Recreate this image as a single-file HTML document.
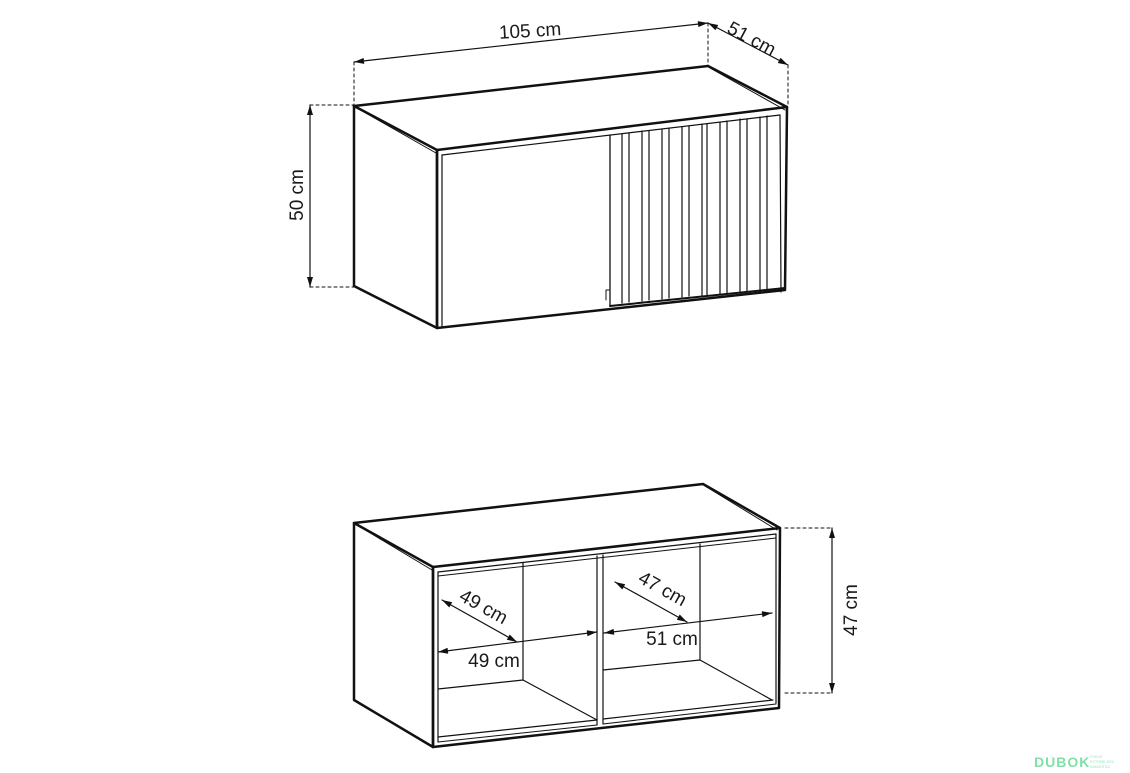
<!DOCTYPE html>
<html><head><meta charset="utf-8"><style>
html,body{margin:0;padding:0;background:#fff;}
svg{display:block;}
text{font-family:"Liberation Sans",Arial,sans-serif;fill:#1a1a1a;}
</style></head><body>
<svg width="1130" height="773" viewBox="0 0 1130 773" xmlns="http://www.w3.org/2000/svg">
<defs>
<marker id="a" viewBox="0 0 10 6" refX="10" refY="3" markerWidth="11" markerHeight="6" orient="auto" markerUnits="userSpaceOnUse">
<path d="M0,0 L10,3 L0,6 z" fill="#111"/></marker>
<marker id="as" viewBox="0 0 10 6" refX="0" refY="3" markerWidth="11" markerHeight="6" orient="auto" markerUnits="userSpaceOnUse">
<path d="M10,0 L0,3 L10,6 z" fill="#111"/></marker>
</defs>
<g fill="none" stroke="#111" stroke-linejoin="round" stroke-linecap="round">
<!-- TOP CABINET -->
<path d="M354,106 L708,66 L787,107 L437,150 Z" stroke-width="2.5" fill="#fff"/>
<path d="M354,106 L354,286 L437,328 L437,150" stroke-width="2.5"/>
<path d="M357,108 L436,153" stroke-width="1"/>
<path d="M710,68 L785,110" stroke-width="1"/>
<path d="M437,150 L437,328 L785,290 L787,107" stroke-width="2.5"/>
<path d="M442,155 L780,115" stroke-width="1.2"/>
<path d="M442,155 L442,326" stroke-width="1.2"/>
<path d="M780,115 L781,292" stroke-width="1.2"/>
<!-- door -->
<path d="M610,135 L610,306" stroke-width="1.3"/>
<path d="M606,290 L609,290 M606,290 L606,300" stroke-width="1"/>
<!-- slats -->
<g stroke-width="1.2">
<line x1="622" y1="134" x2="622" y2="303"/><line x1="629" y1="133" x2="629" y2="302"/>
<line x1="642" y1="131" x2="642" y2="301"/><line x1="649" y1="131" x2="649" y2="300"/>
<line x1="662" y1="129" x2="662" y2="299"/><line x1="669" y1="128" x2="669" y2="298"/>
<line x1="682" y1="127" x2="682" y2="297"/><line x1="689" y1="126" x2="689" y2="296"/>
<line x1="702" y1="124" x2="702" y2="296"/><line x1="707" y1="124" x2="707" y2="295"/>
<line x1="720" y1="122" x2="720" y2="294"/><line x1="727" y1="121" x2="727" y2="294"/>
<line x1="740" y1="119" x2="740" y2="293"/><line x1="747" y1="119" x2="747" y2="292"/>
<line x1="760" y1="117" x2="760" y2="292"/><line x1="767" y1="116" x2="767" y2="291"/>
</g>
<path d="M610,306 L785,288" stroke-width="2"/>
<!-- dims -->
<g stroke-width="1" stroke-dasharray="3,3">
<line x1="354" y1="62" x2="354" y2="106"/><line x1="708" y1="23" x2="708" y2="66"/>
<line x1="788" y1="65" x2="788" y2="107"/>
<line x1="310" y1="105" x2="354" y2="105"/><line x1="310" y1="287" x2="354" y2="287"/>
<line x1="785" y1="528" x2="832" y2="528"/><line x1="785" y1="693" x2="832" y2="693"/>
</g>
<g stroke-width="1.2">
<line x1="354" y1="62" x2="708" y2="23" marker-start="url(#as)" marker-end="url(#a)"/>
<line x1="708" y1="23" x2="788" y2="65" marker-start="url(#as)" marker-end="url(#a)"/>
<line x1="310" y1="105" x2="310" y2="287" marker-start="url(#as)" marker-end="url(#a)"/>
<line x1="832" y1="528" x2="832" y2="693" marker-start="url(#as)" marker-end="url(#a)"/>
</g>
<!-- BOTTOM CABINET -->
<path d="M354,523 L703,484 L780,528 L433,567 Z" stroke-width="2.5" fill="#fff"/>
<path d="M357,525 L432,570" stroke-width="1"/>
<path d="M705,486 L777,530" stroke-width="1"/>
<path d="M354,523 L354,700 L433,747 L433,567" stroke-width="2.5"/>
<path d="M433,567 L433,747 L779,708 L780,528" stroke-width="2.5"/>
<path d="M438,572 L776,534" stroke-width="1.2"/>
<path d="M438,576 L776,538" stroke-width="1"/>
<path d="M438,572 L438,742" stroke-width="1.2"/>
<path d="M776,534 L776,703" stroke-width="1.2"/>
<path d="M597,556 L597,725 M603,555 L603,724" stroke-width="1.2"/>
<path d="M523,563 L523,680 L597,720 M438,689 L523,680" stroke-width="1.2"/>
<path d="M700,544 L700,660 L772,700 M603,670 L700,660" stroke-width="1.2"/>
<path d="M438,737 L597,720 M603,719 L773,700" stroke-width="1.2"/>
<path d="M438,742 L597,725 M603,724 L776,704" stroke-width="1"/>
<g stroke-width="1.2">
<line x1="442" y1="600" x2="517" y2="642" marker-start="url(#as)" marker-end="url(#a)"/>
<line x1="438" y1="652" x2="597" y2="632" marker-start="url(#as)" marker-end="url(#a)"/>
<line x1="615" y1="582" x2="687" y2="622" marker-start="url(#as)" marker-end="url(#a)"/>
<line x1="604" y1="633" x2="772" y2="613" marker-start="url(#as)" marker-end="url(#a)"/>
</g>
</g>
<g font-size="19">
<text x="530" y="37" text-anchor="middle" transform="rotate(-3.5 530 30)">105 cm</text>
<text x="752" y="45" text-anchor="middle" transform="rotate(28 752 38)">51 cm</text>
<text x="296" y="202" text-anchor="middle" transform="rotate(-90 296 195)">50 cm</text>
<text x="850" y="617" text-anchor="middle" transform="rotate(-90 850 610)">47 cm</text>
<text x="484" y="613" text-anchor="middle" transform="rotate(29 484 606)">49 cm</text>
<text x="494" y="667" text-anchor="middle">49 cm</text>
<text x="663" y="595" text-anchor="middle" transform="rotate(29 663 588)">47 cm</text>
<text x="672" y="645" text-anchor="middle">51 cm</text>
</g>
<text x="1034" y="767" font-size="14" font-weight="bold" style="fill:#7fe0a8" letter-spacing="1">DUBOK</text>
<text x="1090" y="758" font-size="3.5" style="fill:#9ae8bb">FOKUS</text>
<text x="1090" y="763" font-size="3.5" style="fill:#9ae8bb">POTREBLJENI</text>
<text x="1090" y="768" font-size="3.5" style="fill:#9ae8bb">NAMJEŠTAJ</text>
</svg>
</body></html>
